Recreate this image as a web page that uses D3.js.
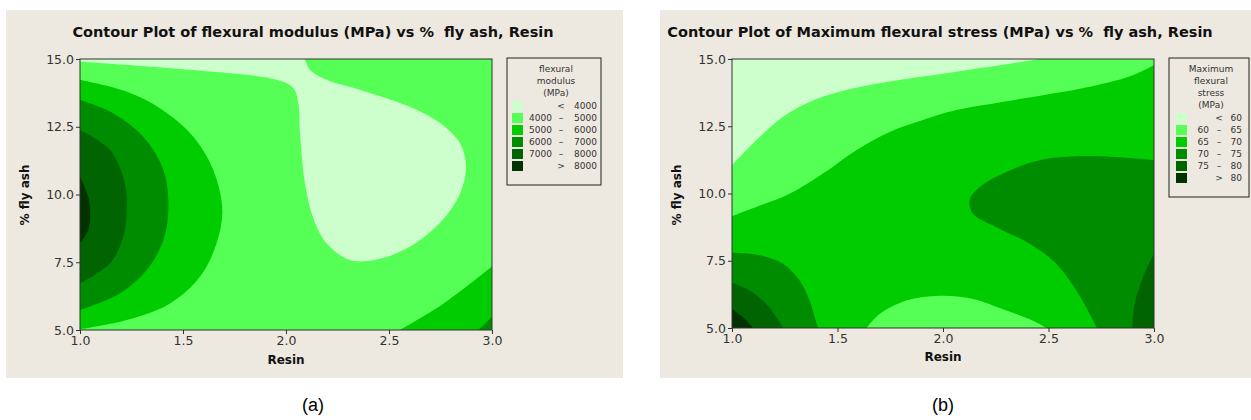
<!DOCTYPE html>
<html><head><meta charset="utf-8">
<script src="https://cdn.jsdelivr.net/npm/d3@7"></script>
<style>body{margin:0;background:#fff}svg{display:block}text{white-space:pre}</style>
</head><body><svg id="c" width="1251" height="420"></svg>
<script>
// ---------- data ----------
const resinTicks = [1.0, 1.5, 2.0, 2.5, 3.0];
const flyTicks = [5.0, 7.5, 10.0, 12.5, 15.0];
const titleA = "Contour Plot of flexural modulus (MPa) vs %  fly ash, Resin";
const titleB = "Contour Plot of Maximum flexural stress (MPa) vs %  fly ash, Resin";
const legendTitleA = ["flexural", "modulus", "(MPa)"];
const legendTitleB = ["Maximum", "flexural", "stress", "(MPa)"];
const legendRowsA = [["", "<", "4000"], ["4000", "–", "5000"], ["5000", "–", "6000"], ["6000", "–", "7000"], ["7000", "–", "8000"], ["", ">", "8000"]];
const legendRowsB = [["", "<", "60"], ["60", "–", "65"], ["65", "–", "70"], ["70", "–", "75"], ["75", "–", "80"], ["", ">", "80"]];
const bandColors = ["#ccffcc", "#55ff55", "#00cc00", "#008c00", "#006400", "#003300"];

// contour lines (Resin, % fly ash) (a) – flexural modulus
const modulus4000 = [[1.0,14.90],[1.55,14.59],[1.955,14.23],[2.036,13.92],[2.06,13.36],[2.068,12.26],[2.092,10.41],[2.13,9.18],[2.197,8.2],[2.31,7.58],[2.44,7.6],[2.60,8.07],[2.76,9.06],[2.845,10.04],[2.874,11.03],[2.845,11.89],[2.75,12.63],[2.60,13.24],[2.36,13.86],[2.197,14.23],[2.117,14.59],[2.092,15.0]];
const modulus5000Left = [[1.0,14.23],[1.227,13.79],[1.388,13.18],[1.55,12.13],[1.647,10.90],[1.691,9.43],[1.663,8.20],[1.583,6.97],[1.437,5.98],[1.227,5.37],[1.0,5.03]];
const modulus6000Left = [[1.0,13.49],[1.146,13.06],[1.307,12.13],[1.405,10.90],[1.429,9.55],[1.405,8.32],[1.324,7.21],[1.194,6.35],[1.0,5.74]];
const modulus7000Left = [[1.0,12.38],[1.146,11.64],[1.218,10.41],[1.227,9.43],[1.21,8.44],[1.146,7.46],[1.0,6.72]];
const modulus8000Left = [[1.0,10.66],[1.04,9.92],[1.049,9.43],[1.04,8.69],[1.0,8.20]];
const modulus5000Right = [[2.553,5.0],[2.76,5.95],[3.0,7.34]];
const modulus6000Right = [[2.934,5.0],[3.0,5.49]];

// contour lines (b) – maximum flexural stress
const stress60 = [[1.0,11.05],[1.115,11.98],[1.242,12.85],[1.352,13.35],[1.51,13.78],[1.747,14.16],[2.063,14.53],[2.379,14.90],[2.458,15.0]];
const stress65Top = [[1.0,9.16],[1.115,9.50],[1.273,9.99],[1.431,10.74],[1.589,11.61],[1.747,12.29],[1.905,12.73],[2.063,13.10],[2.379,13.53],[2.695,13.97],[2.90,14.40],[3.0,14.78]];
const stress65Bottom = [[1.637,5.0],[1.70,5.52],[1.826,6.02],[1.984,6.20],[2.142,6.08],[2.30,5.65],[2.427,5.27],[2.49,5.0]];
const stress70Right = [[3.0,11.24],[2.695,11.39],[2.458,11.24],[2.30,10.80],[2.174,10.24],[2.126,9.75],[2.142,9.25],[2.253,8.75],[2.411,8.13],[2.537,7.39],[2.632,6.39],[2.695,5.52],[2.73,5.0]];
const stress75Right = [[3.0,7.76],[2.948,6.89],[2.908,5.89],[2.897,5.0]];
const stress70Left = [[1.0,7.80],[1.115,7.73],[1.242,7.39],[1.321,6.76],[1.368,6.02],[1.392,5.40],[1.408,5.0]];
const stress75Left = [[1.0,6.68],[1.084,6.39],[1.163,5.89],[1.21,5.40],[1.242,5.0]];
const stress80Left = [[1.0,5.71],[1.052,5.40],[1.10,5.0]];

// ---------- drawing ----------
const svg = d3.select("#c");
const BG = "#ede9e0";
const FONT = "'DejaVu Sans', Verdana, sans-serif";

function panel(cfg) {
  svg.append("rect").attr("x", cfg.bg[0]).attr("y", cfg.bg[1]).attr("width", cfg.bg[2]).attr("height", cfg.bg[3]).attr("fill", BG);
  const x = d3.scaleLinear().domain([1, 3]).range([cfg.plot[0], cfg.plot[1]]);
  const y = d3.scaleLinear().domain([5, 15]).range([cfg.plot[3], cfg.plot[2]]);
  const clipId = "clip" + cfg.id;
  svg.append("clipPath").attr("id", clipId).append("rect")
    .attr("x", x(1)).attr("y", y(15)).attr("width", x(3) - x(1)).attr("height", y(5) - y(15));
  const g = svg.append("g").attr("clip-path", `url(#${clipId})`);
  g.append("rect").attr("x", x(1)).attr("y", y(15)).attr("width", x(3) - x(1)).attr("height", y(5) - y(15)).attr("fill", bandColors[cfg.base]);
  const line = d3.line().x(d => x(d[0])).y(d => y(d[1])).curve(d3.curveCatmullRom.alpha(0.5));
  cfg.regions.forEach(r => {
    let p = line(r.pts);
    r.corners.forEach(c => { p += `L${x(c[0])},${y(c[1])}`; });
    g.append("path").attr("d", p + "Z").attr("fill", bandColors[r.band]);
  });
  // frame
  svg.append("rect").attr("x", x(1)).attr("y", y(15)).attr("width", x(3) - x(1)).attr("height", y(5) - y(15))
    .attr("fill", "none").attr("stroke", "#333").attr("stroke-width", 1);
  // axes
  const ax = svg.append("g").attr("transform", `translate(0,${y(5)})`)
    .call(d3.axisBottom(x).tickValues(resinTicks).tickFormat(d3.format(".1f")).tickSize(4).tickPadding(2));
  const ay = svg.append("g").attr("transform", `translate(${x(1)},0)`)
    .call(d3.axisLeft(y).tickValues(flyTicks).tickFormat(d3.format(".1f")).tickSize(4).tickPadding(2));
  [ax, ay].forEach(a => {
    a.select(".domain").remove();
    a.selectAll("line").attr("stroke", "#333");
    a.selectAll("text").attr("font-family", FONT).attr("font-size", 12.5).attr("fill", "#333");
  });
  // titles
  svg.append("text").attr("x", cfg.titleX).attr("y", 37).attr("text-anchor", "middle")
    .attr("font-family", FONT).attr("font-weight", "bold").attr("font-size", 14.5).attr("fill", "#111").text(cfg.title);
  svg.append("text").attr("x", (x(1) + x(3)) / 2).attr("y", cfg.xlabY).attr("text-anchor", "middle")
    .attr("font-family", FONT).attr("font-weight", "bold").attr("font-size", 12).attr("fill", "#111").text("Resin");
  svg.append("text").attr("transform", `translate(${cfg.ylabX},195) rotate(-90)`).attr("text-anchor", "middle")
    .attr("font-family", FONT).attr("font-weight", "bold").attr("font-size", 12).attr("fill", "#111").text("% fly ash");
  // legend
  const L = cfg.legend;
  const lg = svg.append("g");
  lg.append("rect").attr("x", L.x).attr("y", L.y).attr("width", L.w).attr("height", L.h)
    .attr("fill", BG).attr("stroke", "#222").attr("stroke-width", 1);
  L.title.forEach((t, i) => {
    lg.append("text").attr("x", L.x + L.w / 2 + 2).attr("y", L.y + 14 + i * 12).attr("text-anchor", "middle")
      .attr("font-family", FONT).attr("font-size", 9).attr("fill", "#333").text(t);
  });
  const top = L.y + 15 + L.title.length * 12;
  L.rows.forEach((r, i) => {
    const yy = top + i * 12;
    lg.append("rect").attr("x", L.sw).attr("y", yy - 8).attr("width", 11).attr("height", 10).attr("fill", bandColors[i]);
    lg.append("text").attr("x", L.c1).attr("y", yy).attr("text-anchor", "end").attr("font-family", FONT).attr("font-size", 9).attr("fill", "#333").text(r[0]);
    lg.append("text").attr("x", L.c2).attr("y", yy).attr("text-anchor", "middle").attr("font-family", FONT).attr("font-size", 9).attr("fill", "#333").text(r[1]);
    lg.append("text").attr("x", L.c3).attr("y", yy).attr("text-anchor", "end").attr("font-family", FONT).attr("font-size", 9).attr("fill", "#333").text(r[2]);
  });
  // caption
  svg.append("text").attr("x", cfg.capX).attr("y", 411).attr("text-anchor", "middle")
    .attr("font-family", "'Liberation Sans', Arial, sans-serif").attr("font-size", 18).attr("fill", "#000").text(cfg.caption);
}

panel({
  id: "a", bg: [6, 10, 617, 368], plot: [80, 492, 59, 330], title: titleA, titleX: 313, xlabY: 364, ylabX: 29,
  base: 1, caption: "(a)", capX: 313,
  regions: [
    { pts: modulus4000, corners: [[1, 15]], band: 0 },
    { pts: modulus5000Left, corners: [], band: 2 },
    { pts: modulus6000Left, corners: [], band: 3 },
    { pts: modulus7000Left, corners: [], band: 4 },
    { pts: modulus8000Left, corners: [], band: 5 },
    { pts: modulus5000Right, corners: [[3, 5]], band: 2 },
    { pts: modulus6000Right, corners: [[3, 5]], band: 3 }
  ],
  legend: { x: 507, y: 58, w: 94, h: 127, title: legendTitleA, rows: legendRowsA, sw: 512, c1: 552, c2: 561, c3: 597 }
});

panel({
  id: "b", bg: [660, 10, 591, 368], plot: [732, 1154, 59, 328], title: titleB, titleX: 940, xlabY: 361, ylabX: 681,
  base: 2, caption: "(b)", capX: 943,
  regions: [
    { pts: stress65Top, corners: [[3, 15], [1, 15]], band: 1 },
    { pts: stress60, corners: [[1, 15]], band: 0 },
    { pts: stress65Bottom, corners: [], band: 1 },
    { pts: stress70Right, corners: [[3, 5]], band: 3 },
    { pts: stress75Right, corners: [[3, 5]], band: 4 },
    { pts: stress70Left, corners: [[1, 5]], band: 3 },
    { pts: stress75Left, corners: [[1, 5]], band: 4 },
    { pts: stress80Left, corners: [[1, 5]], band: 5 }
  ],
  legend: { x: 1169, y: 58, w: 80, h: 139, title: legendTitleB, rows: legendRowsB, sw: 1176, c1: 1209, c2: 1219, c3: 1242 }
});
</script></body></html>
